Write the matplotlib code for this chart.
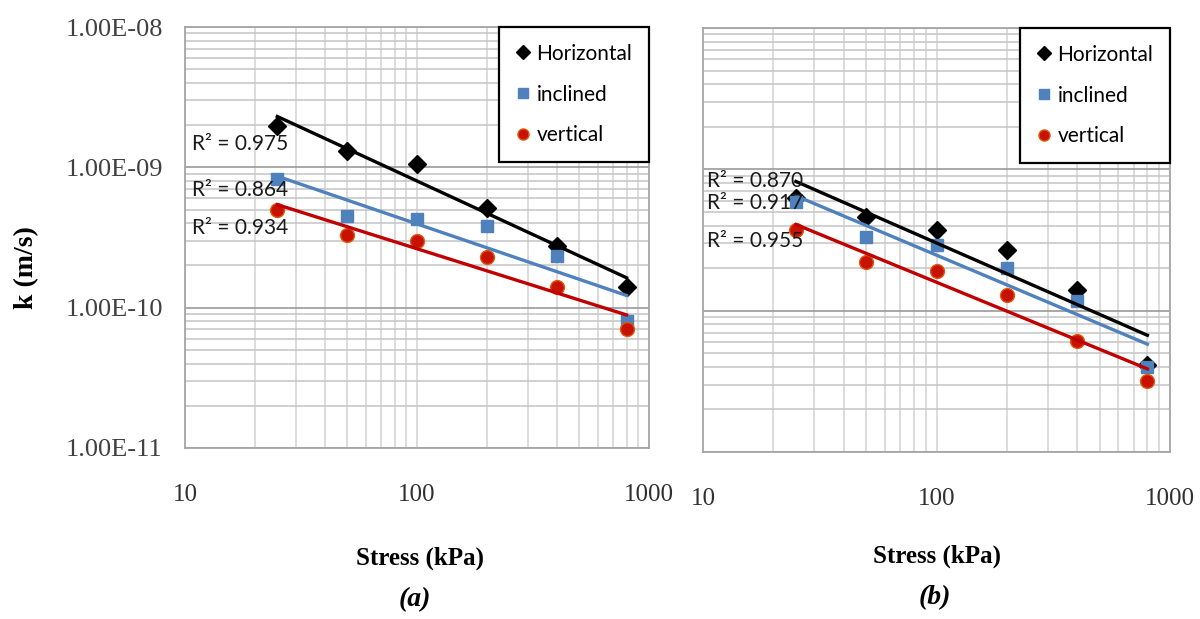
import numpy as np
import matplotlib.pyplot as plt
from matplotlib.ticker import LogLocator, FixedLocator, FixedFormatter, NullFormatter

# data (stress in kPa, k in m/s)
stress = [25, 50, 100, 200, 400, 800]
k_a_horizontal = [1.96e-9, 1.30e-9, 1.05e-9, 5.1e-10, 2.77e-10, 1.41e-10]
k_a_inclined = [8.3e-10, 4.5e-10, 4.3e-10, 3.85e-10, 2.35e-10, 8.1e-11]
k_a_vertical = [5.0e-10, 3.3e-10, 3.0e-10, 2.3e-10, 1.4e-10, 7.0e-11]
k_b_horizontal = [6.3e-10, 4.6e-10, 3.7e-10, 2.7e-10, 1.4e-10, 4.1e-11]
k_b_inclined = [5.9e-10, 3.3e-10, 2.9e-10, 2.0e-10, 1.18e-10, 4.0e-11]
k_b_vertical = [3.7e-10, 2.2e-10, 1.9e-10, 1.3e-10, 6.1e-11, 3.2e-11]
r2_a = ["0.975", "0.864", "0.934"]
r2_b = ["0.870", "0.917", "0.955"]
series_names = ["Horizontal", "inclined", "vertical"]
y_ticks = [1e-11, 1e-10, 1e-9, 1e-8]
y_ticklabels = ["1.00E-11", "1.00E-10", "1.00E-09", "1.00E-08"]
x_ticks = [10, 100, 1000]
x_ticklabels = ["10", "100", "1000"]

styles = [
    dict(marker="D", color="black", ms=9, mec="black"),
    dict(marker="s", color="#4f81bd", ms=9, mec="#4f81bd"),
    dict(marker="o", color="#c81200", ms=10, mec="#e05a10"),
]
line_colors = ["black", "#4f81bd", "#c00000"]

W, H = 1200, 619
fig = plt.figure(figsize=(12, 6.19), dpi=100)


def px_axes(x0, y0, x1, y1):
    return fig.add_axes([x0 / W, 1 - y1 / H, (x1 - x0) / W, (y1 - y0) / H])


def power_fit(x, y, xs):
    b, a = np.polyfit(np.log10(x), np.log10(y), 1)
    return 10 ** (a + b * np.log10(xs))


def panel(ax, data, r2, r2_pos, show_ylabels):
    ax.set_xscale("log")
    ax.set_yscale("log")
    ax.set_xlim(10, 1000)
    ax.set_ylim(1e-11, 1e-8)
    ax.xaxis.set_major_locator(FixedLocator(x_ticks))
    ax.xaxis.set_major_formatter(FixedFormatter(x_ticklabels))
    ax.xaxis.set_minor_locator(LogLocator(base=10, subs=np.arange(2, 10), numticks=20))
    ax.xaxis.set_minor_formatter(NullFormatter())
    ax.yaxis.set_major_locator(FixedLocator(y_ticks))
    ax.yaxis.set_minor_locator(LogLocator(base=10, subs=np.arange(2, 10), numticks=20))
    ax.yaxis.set_minor_formatter(NullFormatter())
    if show_ylabels:
        ax.yaxis.set_major_formatter(FixedFormatter(y_ticklabels))
    else:
        ax.yaxis.set_major_formatter(NullFormatter())
    ax.tick_params(which="both", length=0)
    ax.tick_params(axis="x", pad=26, labelsize=18, labelcolor="#303030")
    ax.tick_params(axis="y", pad=16, labelsize=19, labelcolor="#404040")
    for lab in ax.get_xticklabels() + ax.get_yticklabels():
        lab.set_family("Liberation Serif")
    ax.grid(True, which="major", axis="y", color="#9a9a9a", lw=1.2)
    ax.grid(True, which="minor", axis="y", color="#c8c8c8", lw=1.2)
    ax.grid(True, which="both", axis="x", color="#d6d6d6", lw=1.2)
    ax.set_axisbelow(True)
    for sp in ax.spines.values():
        sp.set_color("#a6a6a6")
        sp.set_linewidth(1.3)

    xs = np.array([stress[0], stress[-1]], dtype=float)
    handles = []
    for vals, st, name in zip(data, styles, series_names):
        h, = ax.plot(stress, vals, ls="none", label=name, zorder=3, **st)
        handles.append(h)
    # power-law trend lines (straight on log-log axes)
    for vals, lc in zip(data, line_colors):
        ax.plot(xs, power_fit(stress, vals, xs), color=lc, lw=2.4, zorder=4)

    for txt, (tx, ty) in zip(r2, r2_pos):
        ax.text(tx, ty, "R² = " + txt, transform=ax.transAxes, fontsize=15,
                family="Lato", color="#1a1a1a", va="center", ha="left", zorder=5)

    leg = ax.legend(handles=handles, loc="upper right", borderaxespad=0,
                    frameon=True, fancybox=False, prop={"family": "Lato", "size": 15},
                    handlelength=0.7, handletextpad=0.3, labelspacing=1.0,
                    borderpad=0.8, markerscale=0.8)
    leg.get_frame().set_edgecolor("black")
    leg.get_frame().set_linewidth(1.6)
    leg.get_frame().set_alpha(1)


ax_a = px_axes(185, 27, 649, 448)
panel(ax_a, [k_a_horizontal, k_a_inclined, k_a_vertical], r2_a,
      [(0.015, 0.722), (0.015, 0.613), (0.015, 0.523)], True)

ax_b = px_axes(703, 28, 1170, 452)
panel(ax_b, [k_b_horizontal, k_b_inclined, k_b_vertical], r2_b,
      [(0.009, 0.639), (0.009, 0.587), (0.009, 0.498)], False)

serif = "Liberation Serif"
fig.text(27 / W, 1 - 268 / H, "k (m/s)", rotation=90, ha="center", va="center",
         fontsize=20, fontweight="bold", family=serif)
fig.text(420 / W, 1 - 558 / H, "Stress (kPa)", ha="center", va="center",
         fontsize=18, fontweight="bold", family=serif)
fig.text(937 / W, 1 - 556 / H, "Stress (kPa)", ha="center", va="center",
         fontsize=18, fontweight="bold", family=serif)
fig.text(415 / W, 1 - 600 / H, "(a)", ha="center", va="center",
         fontsize=20, fontweight="bold", fontstyle="italic", family=serif)
fig.text(935 / W, 1 - 598 / H, "(b)", ha="center", va="center",
         fontsize=20, fontweight="bold", fontstyle="italic", family=serif)

fig.savefig("out.png", dpi=100)
